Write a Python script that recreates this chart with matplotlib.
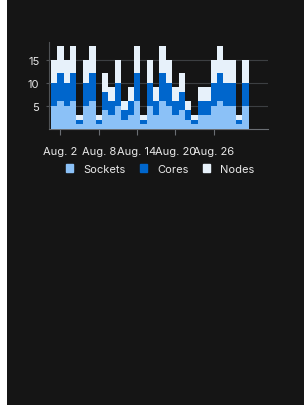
import numpy as np
import matplotlib
matplotlib.use('Agg')
import matplotlib.pyplot as plt
from matplotlib.patches import Patch, Rectangle

# daily usage, Aug. 1 .. Aug. 31
days = np.arange(1, 32)
sockets = [5, 6, 5, 6, 1, 5, 6, 1, 4, 3, 5, 2, 3, 6, 1, 5,
           3, 6, 5, 3, 4, 2, 1, 3, 3, 5, 6, 5, 5, 1, 5]
cores = [5, 6, 5, 6, 1, 5, 6, 1, 4, 3, 5, 2, 3, 6, 1, 5,
         3, 6, 5, 3, 4, 2, 1, 3, 3, 5, 6, 5, 5, 1, 5]
nodes = [5, 6, 5, 6, 1, 5, 6, 1, 4, 3, 5, 2, 3, 6, 1, 5,
         3, 6, 5, 3, 4, 2, 1, 3, 3, 5, 6, 5, 5, 1, 5]

xtick_days = [2, 8, 14, 20, 26]
xtick_labels = ['Aug. 2', 'Aug. 8', 'Aug. 14', 'Aug. 20', 'Aug. 26']
ytick_vals = [5, 10, 15]

bg = '#151515'
c_sockets = '#8bc1f7'
c_cores = '#0066cc'
c_nodes = '#e7f1fa'
txt = '#e8e8e8'

plt.rcParams['font.family'] = ['Inter', 'DejaVu Sans']

fig = plt.figure(figsize=(3.04, 4.06), dpi=100, facecolor=bg)
# white strip on the left edge
fig.patches.append(Rectangle((0, 0), 7 / 304, 1, transform=fig.transFigure,
                             facecolor='white', edgecolor='none', zorder=0))

ax = fig.add_axes([49 / 304, 1 - 130 / 406, (268 - 49) / 304, 87 / 406])
ax.set_facecolor(bg)

s = np.array(sockets)
c = np.array(cores)
n = np.array(nodes)
ax.bar(days, s, width=1.0, color=c_sockets, linewidth=0, zorder=3)
ax.bar(days, c, width=1.0, bottom=s, color=c_cores, linewidth=0, zorder=3)
ax.bar(days, n, width=1.0, bottom=s + c, color=c_nodes, linewidth=0, zorder=3)

ax.set_xlim(0.2, 34.5)
ax.set_ylim(0, 18.8)

ax.set_yticks(ytick_vals)
ax.set_xticks(xtick_days)
ax.set_xticklabels(xtick_labels)
ax.tick_params(axis='y', length=2, width=0.8, color='#4f5255', labelcolor=txt,
               labelsize=8, pad=5)
ax.tick_params(axis='x', length=4, width=0.8, color='#6a6e73', labelcolor=txt,
               labelsize=8, pad=8)
ax.grid(axis='y', color='#3c3f42', linewidth=0.8, zorder=1)

for side in ['top', 'right']:
    ax.spines[side].set_visible(False)
ax.spines['left'].set_color('#4f5255')
ax.spines['bottom'].set_color('#6a6e73')
ax.spines['left'].set_linewidth(0.8)
ax.spines['bottom'].set_linewidth(0.8)

handles = [Patch(color=c_sockets, label='Sockets'),
           Patch(color=c_cores, label='Cores'),
           Patch(color=c_nodes, label='Nodes')]
leg = fig.legend(handles=handles, loc='center', ncol=3,
                 bbox_to_anchor=(160 / 304, 1 - 170 / 406), frameon=False,
                 fontsize=8, handlelength=0.65, handleheight=0.65,
                 handletextpad=0.9, columnspacing=1.3, labelcolor=txt)

fig.savefig('out.png', dpi=100, facecolor=bg)
